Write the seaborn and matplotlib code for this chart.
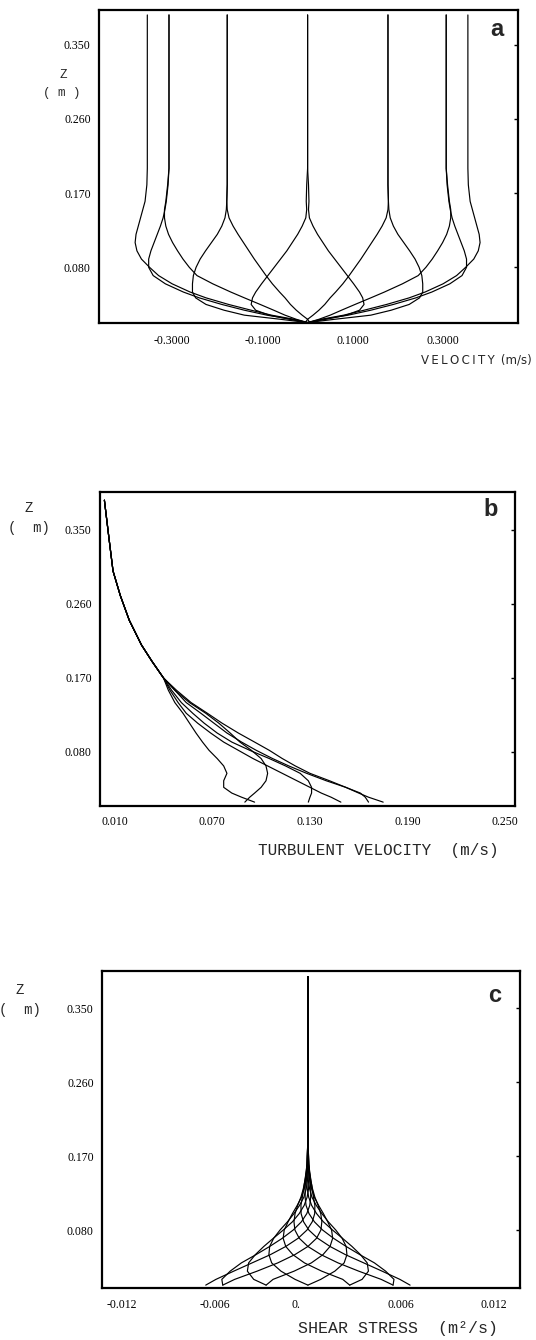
import pandas as pd
import seaborn as sns
import matplotlib.pyplot as plt
import matplotlib.transforms as mtransforms

sns.set_style("white")
plt.rcParams["font.family"] = ["Liberation Serif", "DejaVu Sans"]

# ---------------- panel a : mean velocity, 12 phases of the wave ----------------
z_a = [0.013, 0.017, 0.022, 0.028, 0.035, 0.043, 0.050, 0.060, 0.070, 0.080, 0.090,
       0.100, 0.110, 0.120, 0.130, 0.140, 0.150, 0.160, 0.180, 0.200, 0.386]
vel_000 = [0.0, 0.03, 0.08, 0.125, 0.175, 0.225, 0.26, 0.30, 0.33, 0.35, 0.368,
           0.378, 0.382, 0.38, 0.375, 0.37, 0.365, 0.36, 0.356, 0.355, 0.355]
vel_030 = [0.0, 0.025, 0.05, 0.075, 0.105, 0.14, 0.17, 0.21, 0.245, 0.262, 0.276,
           0.288, 0.299, 0.308, 0.314, 0.317, 0.317, 0.314, 0.31, 0.307, 0.307]
vel_060 = [-0.005, 0.0, 0.012, 0.025, 0.038, 0.05, 0.062, 0.078, 0.092, 0.105, 0.118,
           0.13, 0.142, 0.154, 0.165, 0.174, 0.178, 0.179, 0.178, 0.178, 0.178]
vel_090 = [0.0, -0.04, -0.085, -0.115, -0.125, -0.122, -0.115, -0.102, -0.088, -0.074, -0.06,
           -0.046, -0.034, -0.022, -0.012, -0.004, -0.002, -0.003, -0.002, 0.0, 0.0]
vel_120 = [0.0, -0.06, -0.14, -0.185, -0.225, -0.248, -0.255, -0.255, -0.253, -0.247, -0.238,
           -0.226, -0.213, -0.2, -0.19, -0.183, -0.18, -0.179, -0.178, -0.178, -0.178]
vel_150 = [0.0, -0.035, -0.09, -0.14, -0.19, -0.24, -0.275, -0.315, -0.342, -0.352, -0.352,
           -0.347, -0.34, -0.333, -0.326, -0.32, -0.316, -0.313, -0.309, -0.307, -0.307]
vel_180 = [0.0, -0.03, -0.08, -0.125, -0.175, -0.225, -0.26, -0.30, -0.33, -0.35, -0.368,
           -0.378, -0.382, -0.38, -0.375, -0.37, -0.365, -0.36, -0.356, -0.355, -0.355]
vel_210 = [0.0, -0.025, -0.05, -0.075, -0.105, -0.14, -0.17, -0.21, -0.245, -0.262, -0.276,
           -0.288, -0.299, -0.308, -0.314, -0.317, -0.317, -0.314, -0.31, -0.307, -0.307]
vel_240 = [0.005, 0.0, -0.012, -0.025, -0.038, -0.05, -0.062, -0.078, -0.092, -0.105, -0.118,
           -0.13, -0.142, -0.154, -0.165, -0.174, -0.178, -0.179, -0.178, -0.178, -0.178]
vel_270 = [0.0, 0.04, 0.085, 0.115, 0.125, 0.122, 0.115, 0.102, 0.088, 0.074, 0.06,
           0.046, 0.034, 0.022, 0.012, 0.004, 0.002, 0.003, 0.002, 0.0, 0.0]
vel_300 = [0.0, 0.06, 0.14, 0.185, 0.225, 0.248, 0.255, 0.255, 0.253, 0.247, 0.238,
           0.226, 0.213, 0.2, 0.19, 0.183, 0.18, 0.179, 0.178, 0.178, 0.178]
vel_330 = [0.0, 0.035, 0.09, 0.14, 0.19, 0.24, 0.275, 0.315, 0.342, 0.352, 0.352,
           0.347, 0.34, 0.333, 0.326, 0.32, 0.316, 0.313, 0.309, 0.307, 0.307]

# ---------------- panel b : turbulent velocity (6 distinct profiles) ----------------
z_b = [0.019, 0.025, 0.030, 0.037, 0.045, 0.054, 0.063, 0.072, 0.082, 0.092, 0.103, 0.115,
       0.127, 0.140, 0.155, 0.170, 0.190, 0.210, 0.240, 0.270, 0.300, 0.340, 0.386]
turb_1 = [0.175, 0.166, 0.160, 0.152, 0.142, 0.130, 0.121, 0.113, 0.105, 0.096, 0.086, 0.076,
          0.067, 0.057, 0.048, 0.040, 0.033, 0.0265, 0.019, 0.0135, 0.009, 0.0065, 0.0037]
turb_2 = [0.166, 0.164, 0.161, 0.152, 0.140, 0.128, 0.117, 0.107, 0.097, 0.088, 0.079, 0.071,
          0.063, 0.054, 0.047, 0.040, 0.033, 0.0265, 0.019, 0.0135, 0.009, 0.0065, 0.0037]
turb_3 = [0.149, 0.143, 0.137, 0.130, 0.122, 0.113, 0.104, 0.095, 0.086, 0.077, 0.069, 0.061,
          0.054, 0.049, 0.044, 0.040, 0.033, 0.0265, 0.019, 0.0135, 0.009, 0.0065, 0.0037]
turb_4 = [0.129, 0.130, 0.131, 0.131, 0.129, 0.124, 0.115, 0.105, 0.093, 0.082, 0.073, 0.065,
          0.058, 0.051, 0.045, 0.040, 0.033, 0.0265, 0.019, 0.0135, 0.009, 0.0065, 0.0037]
turb_5 = [0.090, 0.093, 0.096, 0.100, 0.103, 0.104, 0.103, 0.100, 0.094, 0.087, 0.081, 0.074,
          0.066, 0.056, 0.047, 0.040, 0.033, 0.0265, 0.019, 0.0135, 0.009, 0.0065, 0.0037]
turb_6 = [0.096, 0.088, 0.082, 0.077, 0.077, 0.079, 0.077, 0.073, 0.068, 0.064, 0.060, 0.056,
          0.052, 0.047, 0.043, 0.040, 0.033, 0.0265, 0.019, 0.0135, 0.009, 0.0065, 0.0037]

# ---------------- panel c : shear stress, 12 phases ----------------
z_c = [0.013, 0.020, 0.030, 0.040, 0.050, 0.060, 0.070, 0.080, 0.090, 0.100,
       0.110, 0.120, 0.130, 0.140, 0.150, 0.160, 0.180, 0.220, 0.388]
tau_000 = [0.0066, 0.00594, 0.00479, 0.00361, 0.00243, 0.00143, 0.00063, 0.00006, -0.00028, -0.00044,
           -0.00045, -0.00036, -0.00028, -0.0002, -0.00012, -0.00006, -0.00002, 0.0, 0.0]
tau_030 = [0.0055, 0.00556, 0.00502, 0.0043, 0.00336, 0.00247, 0.00165, 0.00095, 0.00042, 0.00007,
           -0.00012, -0.00018, -0.00018, -0.00016, -0.00011, -0.00006, -0.00002, 0.0, 0.0]
tau_060 = [0.0027, 0.0035, 0.00391, 0.00383, 0.0034, 0.00285, 0.00223, 0.00159, 0.001, 0.00056,
           0.00024, 0.00005, -0.00004, -0.00008, -0.00007, -0.00005, -0.00002, 0.0, 0.0]
tau_090 = [0.0, 0.00083, 0.00174, 0.00234, 0.00252, 0.00247, 0.00221, 0.0018, 0.00132, 0.0009,
           0.00054, 0.00026, 0.00011, 0.00003, -0.00001, -0.00002, -0.00001, 0.0, 0.0]
tau_120 = [-0.0027, -0.00225, -0.00089, 0.00022, 0.00097, 0.00143, 0.0016, 0.00153, 0.00128, 0.001,
           0.00069, 0.00041, 0.00024, 0.00012, 0.00005, 0.00001, 0.0, 0.0, 0.0]
tau_150 = [-0.0055, -0.00473, -0.00328, -0.00195, -0.00085, 0.0, 0.00056, 0.00084, 0.0009, 0.00083,
           0.00066, 0.00045, 0.0003, 0.00019, 0.0001, 0.00004, 0.00002, 0.0, 0.0]
tau_180 = [-0.0066, -0.00594, -0.00479, -0.00361, -0.00243, -0.00143, -0.00063, -0.00006, 0.00028, 0.00044,
           0.00045, 0.00036, 0.00028, 0.0002, 0.00012, 0.00006, 0.00002, 0.0, 0.0]
tau_210 = [-0.0055, -0.00556, -0.00502, -0.0043, -0.00336, -0.00247, -0.00165, -0.00095, -0.00042, -0.00007,
           0.00012, 0.00018, 0.00018, 0.00016, 0.00011, 0.00006, 0.00002, 0.0, 0.0]
tau_240 = [-0.0027, -0.0035, -0.00391, -0.00383, -0.0034, -0.00285, -0.00223, -0.00159, -0.001, -0.00056,
           -0.00024, -0.00005, 0.00004, 0.00008, 0.00007, 0.00005, 0.00002, 0.0, 0.0]
tau_270 = [0.0, -0.00083, -0.00174, -0.00234, -0.00252, -0.00247, -0.00221, -0.0018, -0.00132, -0.0009,
           -0.00054, -0.00026, -0.00011, -0.00003, 0.00001, 0.00002, 0.00001, 0.0, 0.0]
tau_300 = [0.0027, 0.00225, 0.00089, -0.00022, -0.00097, -0.00143, -0.0016, -0.00153, -0.00128, -0.001,
           -0.00069, -0.00041, -0.00024, -0.00012, -0.00005, -0.00001, 0.0, 0.0, 0.0]
tau_330 = [0.0055, 0.00473, 0.00328, 0.00195, 0.00085, 0.0, -0.00056, -0.00084, -0.0009, -0.00083,
           -0.00066, -0.00045, -0.0003, -0.00019, -0.0001, -0.00004, -0.00002, 0.0, 0.0]


def long_frame(z, profiles, xname):
    rows = []
    for name, vals in profiles.items():
        for zz, v in zip(z, vals):
            rows.append((name, v, zz))
    return pd.DataFrame(rows, columns=["phase", xname, "z"])


df_a = long_frame(z_a, {"000": vel_000, "030": vel_030, "060": vel_060, "090": vel_090,
                        "120": vel_120, "150": vel_150, "180": vel_180, "210": vel_210,
                        "240": vel_240, "270": vel_270, "300": vel_300, "330": vel_330}, "u")
df_b = long_frame(z_b, {"1": turb_1, "2": turb_2, "3": turb_3, "4": turb_4,
                        "5": turb_5, "6": turb_6}, "q")
df_c = long_frame(z_c, {"000": tau_000, "030": tau_030, "060": tau_060, "090": tau_090,
                        "120": tau_120, "150": tau_150, "180": tau_180, "210": tau_210,
                        "240": tau_240, "270": tau_270, "300": tau_300, "330": tau_330}, "tau")

W, H = 536, 1340
fig = plt.figure(figsize=(W / 100, H / 100), dpi=100)


def box(left, top, right, bottom):
    return fig.add_axes([left / W, 1 - bottom / H, (right - left) / W, (bottom - top) / H])


def ftext(x, y, s, **kw):
    fig.text(x / W, 1 - y / H, s, **kw)


ax_a = box(99, 10, 518, 323)
ax_b = box(100, 492, 515, 806)
ax_c = box(102, 971, 520, 1288)

for ax, df, xname in [(ax_a, df_a, "u"), (ax_b, df_b, "q"), (ax_c, df_c, "tau")]:
    sns.lineplot(data=df, x=xname, y="z", units="phase", estimator=None, sort=False,
                 color="black", linewidth=0.85, legend=False, ax=ax)
    ax.set_xlabel("")
    ax.set_ylabel("")
    ax.set_yticks([0.08, 0.17, 0.26, 0.35])
    ax.set_yticklabels(["0.080", "0.170", "0.260", "0.350"])
    ax.tick_params(axis="both", direction="in", length=3, width=1, labelsize=8.5,
                   right=True, colors="black")
    ax.tick_params(axis="y", pad=6)
    for sp in ax.spines.values():
        sp.set_linewidth(1.6)
        sp.set_color("black")

ax_a.set_xlim(-0.462, 0.466)
ax_a.set_ylim(0.0125, 0.392)
ax_a.set_xticks([-0.3, -0.1, 0.1, 0.3])
ax_a.set_xticklabels(["-0.3000", "-0.1000", "0.1000", "0.3000"])
ax_a.tick_params(axis="x", pad=9)

ax_b.set_xlim(0.001, 0.256)
ax_b.set_ylim(0.0143, 0.396)
ax_b.set_xticks([0.01, 0.07, 0.13, 0.19, 0.25])
ax_b.set_xticklabels(["0.010", "0.070", "0.130", "0.190", "0.250"])
ax_b.tick_params(axis="x", pad=7)

ax_c.set_xlim(-0.0133, 0.0137)
ax_c.set_ylim(0.0095, 0.395)
ax_c.set_xticks([-0.012, -0.006, 0.0, 0.006, 0.012])
ax_c.set_xticklabels(["-0.012", "-0.006", "0.", "0.006", "0.012"])
ax_c.tick_params(axis="x", pad=8)
zero_lab = ax_c.get_xticklabels()[2]
zero_lab.set_transform(zero_lab.get_transform() +
                       mtransforms.ScaledTranslation(-0.12, 0, fig.dpi_scale_trans))

# axis titles
mono = ["Liberation Mono", "DejaVu Sans Mono"]
ftext(63, 75, "Z", family=mono, fontsize=9, ha="center", va="center")
ftext(62, 93, "( m )", family=mono, fontsize=9, ha="center", va="center")
ftext(29, 508, "Z", family=mono, fontsize=10, ha="center", va="center")
ftext(29, 528, "(  m)", family=mono, fontsize=10, ha="center", va="center")
ftext(20, 990, "Z", family=mono, fontsize=10, ha="center", va="center")
ftext(20, 1010, "(  m)", family=mono, fontsize=10, ha="center", va="center")

ftext(532, 360, "V\u2009E\u2009L\u2009O\u2009C\u2009I\u2009T\u2009Y\u2009 (m/s)",
      family=["DejaVu Sans"], fontsize=8.5, ha="right", va="center")
ftext(378, 850, "TURBULENT VELOCITY  (m/s)", family=mono, fontsize=11.5,
      ha="center", va="center")
ftext(398, 1328, "SHEAR STRESS  (m\u00b2/s)", family=mono, fontsize=12,
      ha="center", va="center")

# panel letters
for x, y, s in [(497, 30, "a"), (491, 510, "b"), (495, 995, "c")]:
    ftext(x, y, s, family=["Liberation Sans"], fontweight="bold", fontsize=17,
          ha="center", va="center")

fig.savefig("out.png", dpi=100, facecolor="white")
